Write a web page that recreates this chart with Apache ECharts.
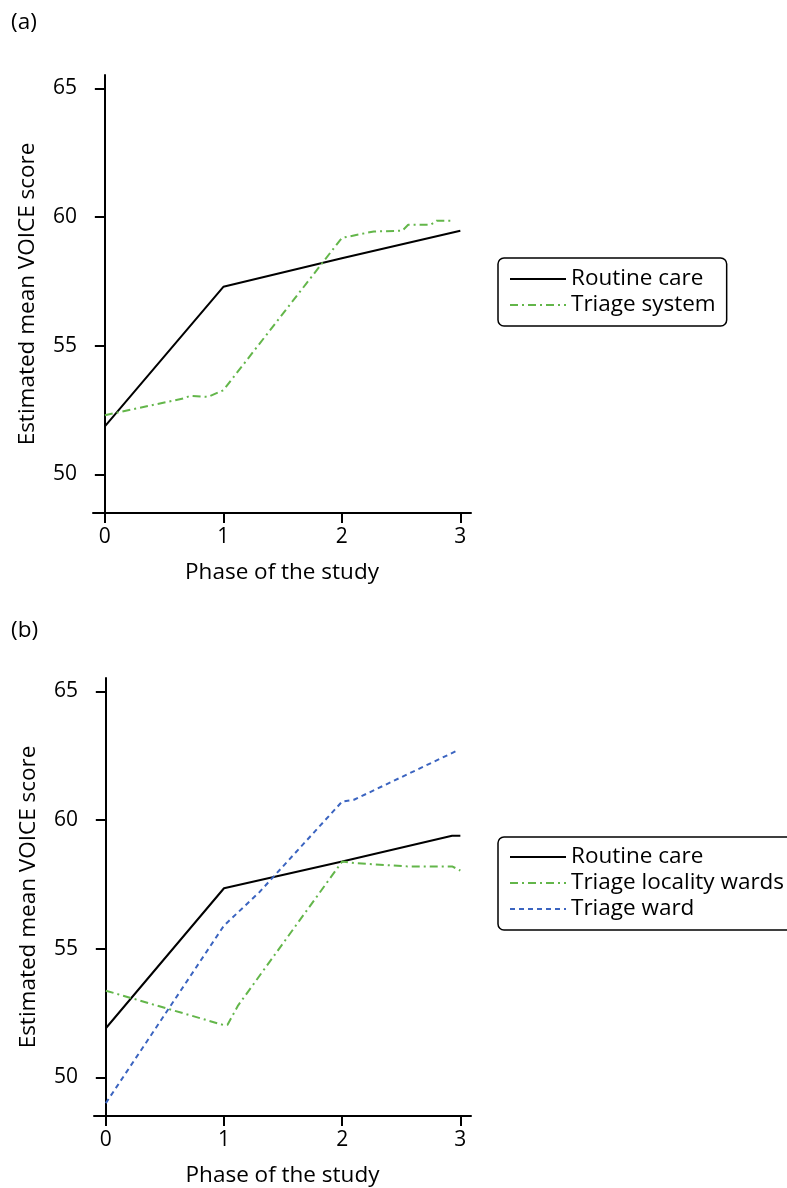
<!DOCTYPE html>
<html>
<head>
<meta charset="utf-8">
<script src="https://cdn.jsdelivr.net/npm/echarts@6/dist/echarts.min.js"></script>
<style>
  html, body { margin: 0; padding: 0; background: #fff; }
  #chart { width: 787px; height: 1188px; }
</style>
</head>
<body>
<div id="chart"></div>
<script>
// Tick labels for both panels
const xTicks = [0, 1, 2, 3];
const yTicks = [50, 55, 60, 65];

// Panel (a): [phase, estimated mean VOICE score]
const routineCareA = [[0, 51.87], [1, 57.29], [2, 58.4], [3, 59.47]];
const triageSystemA = [[0, 52.3], [0.66, 52.95], [0.72, 53.05], [0.87, 53.01], [1.0, 53.27],
  [2.0, 59.19], [2.27, 59.44], [2.51, 59.47], [2.56, 59.7], [2.75, 59.7], [2.8, 59.86], [2.94, 59.86]];

// Panel (b)
const routineCareB = [[0, 51.91], [1, 57.35], [2, 58.39], [2.93, 59.39], [3, 59.39]];
const localityWardsB = [[0, 53.37], [1.0, 52.03], [1.03, 52.05], [1.12, 52.8], [2.0, 58.39],
  [2.1, 58.33], [2.55, 58.2], [2.93, 58.2], [3, 58.04]];
const triageWardB = [[0, 49.0], [0.71, 53.9], [1.0, 55.9], [1.3, 57.2], [2.0, 60.72], [2.1, 60.79], [2.96, 62.67]];

const FONT = 'Open Sans';
const GREEN = '#63b64a';
const BLUE = '#3b64c0';
const TEXT = 22.5;
const TICK = 21;

function xAxisFor(gridIndex) {
  return {
    type: 'value', gridIndex, min: -0.1, max: 3.09,
    name: 'Phase of the study', nameLocation: 'middle', nameGap: 48,
    nameTextStyle: { fontFamily: FONT, fontSize: TEXT, color: '#000' },
    axisLine: { show: true, lineStyle: { color: '#000', width: 2 } },
    axisTick: { show: true, length: 10, lineStyle: { color: '#000', width: 2 }, customValues: xTicks },
    axisLabel: { fontFamily: FONT, fontSize: TICK, color: '#000', margin: 14, customValues: xTicks },
    splitLine: { show: false }
  };
}
function yAxisFor(gridIndex) {
  return {
    type: 'value', gridIndex, min: 48.5, max: 65.52,
    name: 'Estimated mean VOICE score', nameLocation: 'middle', nameGap: 54, nameRotate: 90,
    nameTextStyle: { fontFamily: FONT, fontSize: TEXT, color: '#000' },
    axisLine: { show: true, lineStyle: { color: '#000', width: 2 } },
    axisTick: { show: true, length: 10, lineStyle: { color: '#000', width: 2 }, customValues: yTicks },
    axisLabel: { fontFamily: FONT, fontSize: TICK, color: '#000', margin: 16, customValues: yTicks },
    splitLine: { show: false }
  };
}
function line(name, data, axisIndex, color, type) {
  return {
    name, type: 'line', data, xAxisIndex: axisIndex, yAxisIndex: axisIndex,
    symbol: 'none', animation: false,
    lineStyle: { color, width: 2, type },
    itemStyle: { color }
  };
}
function legendFor(names, top, padTop) {
  return {
    data: names, orient: 'vertical', left: 498, top,
    itemWidth: 56, itemHeight: 14, itemGap: 0,
    padding: [padTop, 11, 8, 11],
    borderColor: '#000', borderWidth: 1.5, borderRadius: 6,
    itemStyle: { opacity: 0 },
    textStyle: { fontFamily: FONT, fontSize: TEXT, color: '#000', lineHeight: 26 }
  };
}

const chart = echarts.init(document.getElementById('chart'), null, { renderer: 'canvas' });
chart.setOption({
  backgroundColor: '#fff',
  animation: false,
  title: [
    { text: '(a)', left: 6, top: 6, textStyle: { fontFamily: FONT, fontSize: TEXT, fontWeight: 'normal', color: '#000' } },
    { text: '(b)', left: 6, top: 614, textStyle: { fontFamily: FONT, fontSize: TEXT, fontWeight: 'normal', color: '#000' } }
  ],
  grid: [
    { left: 93, top: 75, width: 378, height: 438 },
    { left: 94, top: 678, width: 377, height: 438 }
  ],
  xAxis: [xAxisFor(0), xAxisFor(1)],
  yAxis: [yAxisFor(0), yAxisFor(1)],
  legend: [
    legendFor(['Routine care', 'Triage system'], 258, 8),
    legendFor(['Routine care', 'Triage locality wards', 'Triage ward'], 837, 7)
  ],
  series: [
    line('Routine care', routineCareA, 0, '#000', 'solid'),
    line('Triage system', triageSystemA, 0, GREEN, [8, 4, 2, 4]),
    line('Routine care', routineCareB, 1, '#000', 'solid'),
    line('Triage locality wards', localityWardsB, 1, GREEN, [8, 4, 2, 4]),
    line('Triage ward', triageWardB, 1, BLUE, [5, 4])
  ]
});
</script>
</body>
</html>
